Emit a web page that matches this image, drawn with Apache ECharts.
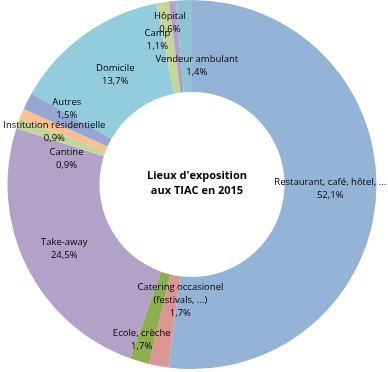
<!DOCTYPE html>
<html>
<head>
<meta charset="utf-8">
<script src="https://cdn.jsdelivr.net/npm/echarts@6/dist/echarts.min.js"></script>
<style>
html,body{margin:0;padding:0;background:#fff;}
#chart{width:388px;height:372px;}
</style>
</head>
<body>
<div id="chart"></div>
<script>
// Data
const categories = [
  "Restaurant, café, hôtel, ...",
  "Catering occasionel\n(festivals, ...)",
  "Ecole, crèche",
  "Take-away",
  "Cantine",
  "Institution résidentielle",
  "Autres",
  "Domicile",
  "Camp",
  "Hôpital",
  "Vendeur ambulant"
];
const values = [52.1, 1.7, 1.7, 24.5, 0.9, 0.9, 1.5, 13.7, 1.1, 0.6, 1.4];
const titleText = "Lieux d'exposition\naux TIAC en 2015";

// Styles
const colors = ["#95B3D7", "#D99694", "#8FAE4F", "#B3A2C7", "#C3D69B", "#FAC090",
                "#95A7D2", "#93CDDD", "#C3D69B", "#B3A2C7", "#8FC3D4"];
const labelShift = [
  [-3, -5], [14, -23], [-10, 20], [-1, 2], [8, 21], [-7, 2],
  [1, -12], [6, 5], [-12, -5], [-7, -21], [11, 23]
];

const chart = echarts.init(document.getElementById('chart'));
chart.setOption({
  animation: false,
  title: {
    text: titleText,
    left: 192,
    top: 163,
    textAlign: 'center',
    textStyle: {
      fontFamily: 'Open Sans',
      fontSize: 11,
      fontWeight: 'bold',
      color: '#000',
      lineHeight: 15
    }
  },
  series: [{
    type: 'pie',
    center: [192, 184.5],
    radius: [92.5, 184.5],
    startAngle: 90,
    clockwise: true,
    avoidLabelOverlap: false,
    itemStyle: { borderWidth: 0 },
    label: {
      show: true,
      position: 'inside',
      fontFamily: 'Open Sans',
      fontSize: 9.5,
      lineHeight: 13,
      color: '#000',
      formatter: function (p) {
        return p.name + '\n' + p.value.toFixed(1).replace('.', ',') + '%';
      }
    },
    labelLine: { show: false },
    labelLayout: function (params) {
      const s = labelShift[params.dataIndex];
      return { dx: s[0], dy: s[1] };
    },
    emphasis: { disabled: true },
    data: categories.map(function (c, i) {
      return { name: c, value: values[i], itemStyle: { color: colors[i] } };
    })
  }]
});
</script>
</body>
</html>
